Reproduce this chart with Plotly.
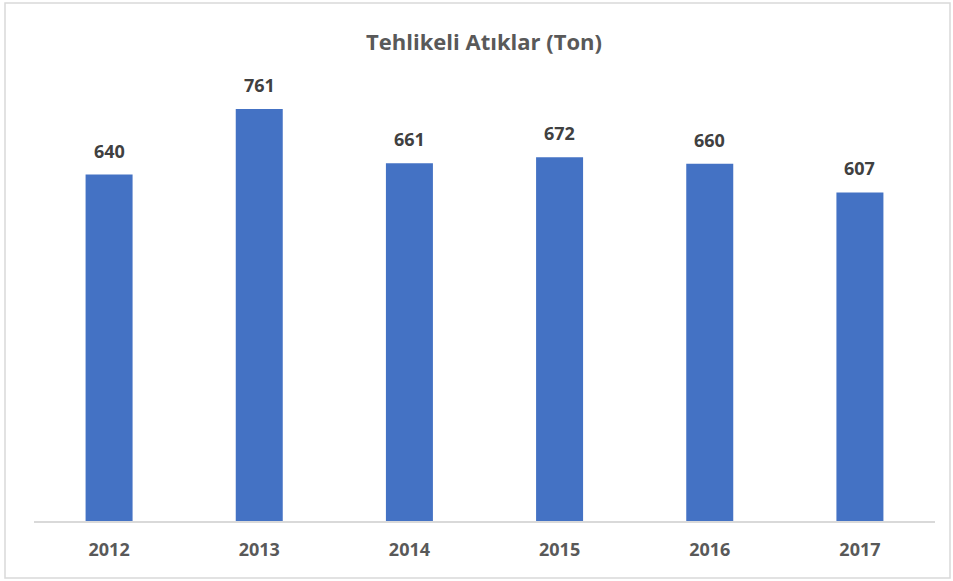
import plotly.graph_objects as go

years = ["2012", "2013", "2014", "2015", "2016", "2017"]
values = [640, 761, 661, 672, 660, 607]
title_text = "Tehlikeli Atıklar (Ton)"

W, H = 953, 581
L, R, T, B = 34, 18, 88, 60
pw = W - L - R
ph = H - T - B
FONT = "Open Sans"

fig = go.Figure()
fig.add_trace(go.Bar(x=years, y=values, marker=dict(color="#4472C4", line=dict(width=0)),
                     hoverinfo="x+y"))

annotations = []
for i, v in enumerate(values):
    annotations.append(dict(x=i, y=v, xref="x", yref="y", text=f"<b>{v}</b>", showarrow=False,
                            yanchor="bottom", yshift=10,
                            font=dict(family=FONT, size=18, color="#404040")))

fig.update_layout(
    width=W, height=H,
    margin=dict(l=L, r=R, t=T, b=B),
    paper_bgcolor="white", plot_bgcolor="white",
    bargap=0.687,
    showlegend=False,
    title=dict(text=f"<b>{title_text}</b>", x=476 / W, xanchor="center",
               xref="paper", y=1 - 42 / H, yanchor="middle",
               font=dict(family=FONT, size=22, color="#595959")),
    xaxis=dict(type="category", range=[-0.5, 5.5], showline=True, linecolor="#d9d9d9", linewidth=1.5,
               showgrid=False, ticks="outside", ticklen=12, tickcolor="rgba(0,0,0,0)",
               tickvals=years, ticktext=[f"<b>{y}</b>" for y in years],
               tickfont=dict(family=FONT, size=18, color="#595959")),
    yaxis=dict(range=[0, 800], visible=False, showgrid=False),
    annotations=annotations,
    shapes=[dict(type="rect", xref="paper", yref="paper",
                 x0=(5 - L) / pw, x1=(950 - L) / pw,
                 y0=(H - B - 578) / ph, y1=(H - B - 3) / ph,
                 line=dict(color="#d9d9d9", width=1.5), fillcolor="rgba(0,0,0,0)", layer="below")],
)

fig.write_html("out.html", config={"displayModeBar": False},
               post_script="document.body.style.margin='0';")
